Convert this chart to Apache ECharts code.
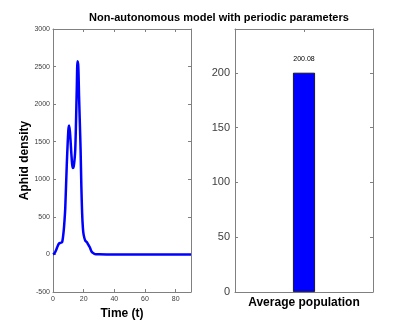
<!DOCTYPE html>
<html>
<head>
<meta charset="utf-8">
<script src="https://cdn.jsdelivr.net/npm/echarts@6/dist/echarts.min.js"></script>
<style>
  html, body { margin: 0; padding: 0; background: #fff; }
  #chart { width: 412px; height: 327px; }
</style>
</head>
<body>
<div id="chart"></div>
<script>
// aphid density over time
var timeVals = [0, 1, 2, 3, 4, 5, 6, 7, 7.5, 8, 9, 10, 10.5, 11, 11.5, 12, 12.5, 13, 13.5, 14, 14.5, 15, 15.5, 16, 16.5, 17, 17.5, 18, 18.5, 19, 19.5, 20, 21, 22, 23, 24, 25, 26, 27, 28, 30, 35, 40, 50, 60, 70, 80, 90];
var densityVals = [0, 15, 55, 110, 148, 155, 165, 320, 450, 620, 1200, 1650, 1715, 1640, 1500, 1330, 1200, 1150, 1170, 1250, 1390, 1750, 2200, 2570, 2500, 2100, 1750, 1390, 900, 550, 350, 260, 185, 165, 130, 95, 45, 20, 8, 3, 1, 0, 0, 0, 0, 0, 0, 0];

// right panel
var barCategories = ['Average population'];
var barValues = [200.08];

var lineCol = '#808080';
var txtCol = '#404040';

var myChart = echarts.init(document.getElementById('chart'));

var linePts = [];
for (var i = 0; i < timeVals.length; i++) {
  linePts.push([timeVals[i], densityVals[i]]);
}

function boxAxis(extra) {
  var base = {
    axisLine: { show: true, onZero: false, lineStyle: { color: lineCol, width: 1 } },
    axisTick: { show: true, inside: true, length: 3, lineStyle: { color: lineCol } },
    axisLabel: { show: false },
    splitLine: { show: false }
  };
  return Object.assign(base, extra);
}

function plain(v) { return String(v); }

myChart.setOption({
  animation: false,
  title: {
    text: 'Non-autonomous model with periodic parameters',
    left: 214,
    top: 7,
    textAlign: 'center',
    textStyle: { fontFamily: 'Liberation Sans', fontSize: 11, fontWeight: 'bold', color: '#000' }
  },
  grid: [
    { left: 53, right: 221, top: 29, bottom: 35 },
    { left: 235, right: 39, top: 29, bottom: 35 }
  ],
  xAxis: [
    boxAxis({
      type: 'value', gridIndex: 0, min: 0, max: 90, interval: 20,
      position: 'bottom',
      name: 'Time (t)', nameLocation: 'middle', nameGap: 15,
      nameTextStyle: { fontFamily: 'Liberation Sans', fontSize: 12, fontWeight: 'bold', color: '#000' },
      axisLabel: { show: true, margin: 4, fontSize: 7, color: txtCol, fontFamily: 'Liberation Sans', showMaxLabel: false, formatter: plain }
    }),
    boxAxis({ type: 'value', gridIndex: 0, min: 0, max: 90, interval: 20, position: 'top' }),
    boxAxis({
      type: 'category', gridIndex: 1, data: barCategories, position: 'bottom',
      name: barCategories[0], nameLocation: 'middle', nameGap: 5,
      nameTextStyle: { fontFamily: 'Liberation Sans', fontSize: 12, fontWeight: 'bold', color: '#000' },
      axisTick: { show: false }
    }),
    boxAxis({
      type: 'category', gridIndex: 1, data: barCategories, position: 'top',
      axisTick: { show: true, inside: true, alignWithLabel: true, length: 3, lineStyle: { color: lineCol } }
    })
  ],
  yAxis: [
    boxAxis({
      type: 'value', gridIndex: 0, min: -500, max: 3000, interval: 500,
      position: 'left',
      name: 'Aphid density', nameLocation: 'middle', nameGap: 22,
      nameTextStyle: { fontFamily: 'Liberation Sans', fontSize: 12, fontWeight: 'bold', color: '#000' },
      axisLabel: { show: true, margin: 3, fontSize: 7, color: txtCol, fontFamily: 'Liberation Sans', formatter: plain }
    }),
    boxAxis({ type: 'value', gridIndex: 0, min: -500, max: 3000, interval: 500, position: 'right' }),
    boxAxis({
      type: 'value', gridIndex: 1, min: 0, max: 240, interval: 50,
      position: 'left',
      axisLabel: { show: true, margin: 5, fontSize: 11, color: txtCol, fontFamily: 'Liberation Sans', showMaxLabel: false, formatter: plain }
    }),
    boxAxis({ type: 'value', gridIndex: 1, min: 0, max: 240, interval: 50, position: 'right' })
  ],
  series: [
    {
      type: 'line',
      xAxisIndex: 0,
      yAxisIndex: 0,
      data: linePts,
      showSymbol: false,
      smooth: 0.3,
      lineStyle: { color: '#0000ff', width: 2.5 }
    },
    {
      type: 'bar',
      xAxisIndex: 2,
      yAxisIndex: 2,
      data: barValues,
      barWidth: 22,
      itemStyle: { color: '#0000ff', borderColor: '#000', borderWidth: 0.8 },
      label: {
        show: true, position: 'top', distance: 10,
        fontSize: 7, color: '#000', fontFamily: 'Liberation Sans',
        formatter: function (p) { return p.value.toFixed(2); }
      }
    }
  ]
});
</script>
</body>
</html>
